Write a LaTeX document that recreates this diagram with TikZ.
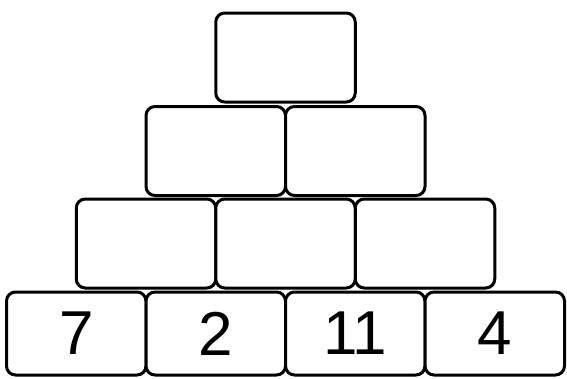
\documentclass[tikz,border=0pt]{standalone}
\usepackage{fontspec}
\setmainfont{Liberation Sans}
\begin{document}
\begin{tikzpicture}[x=1pt,y=-1pt,
  brick/.style={draw=black, line width=3pt, rounded corners=9pt, fill=white,
    minimum width=139.5pt, minimum height=89pt, inner sep=0pt, outer sep=0pt,
    font=\fontsize{62}{62}\selectfont},
  lowbrick/.style={brick, minimum height=83pt}]
\useasboundingbox (0,0) rectangle (567,378);
% bottom row
\node[lowbrick] (d1) at (76.25,333.5) {7};
\node[lowbrick] (d2) at (215.75,333.5) {2};
\node[lowbrick] (d3) at (355.25,333.5) {11};
\node[lowbrick] (d4) at (494.75,333.5) {4};
% third row
\node[brick] (c1) at (146,243.5) {};
\node[brick] (c2) at (285.5,243.5) {};
\node[brick] (c3) at (425,243.5) {};
% second row
\node[brick] (b1) at (215.75,151) {};
\node[brick] (b2) at (355.25,151) {};
% top
\node[brick] (a1) at (285.5,57.5) {};
\end{tikzpicture}
\end{document}
